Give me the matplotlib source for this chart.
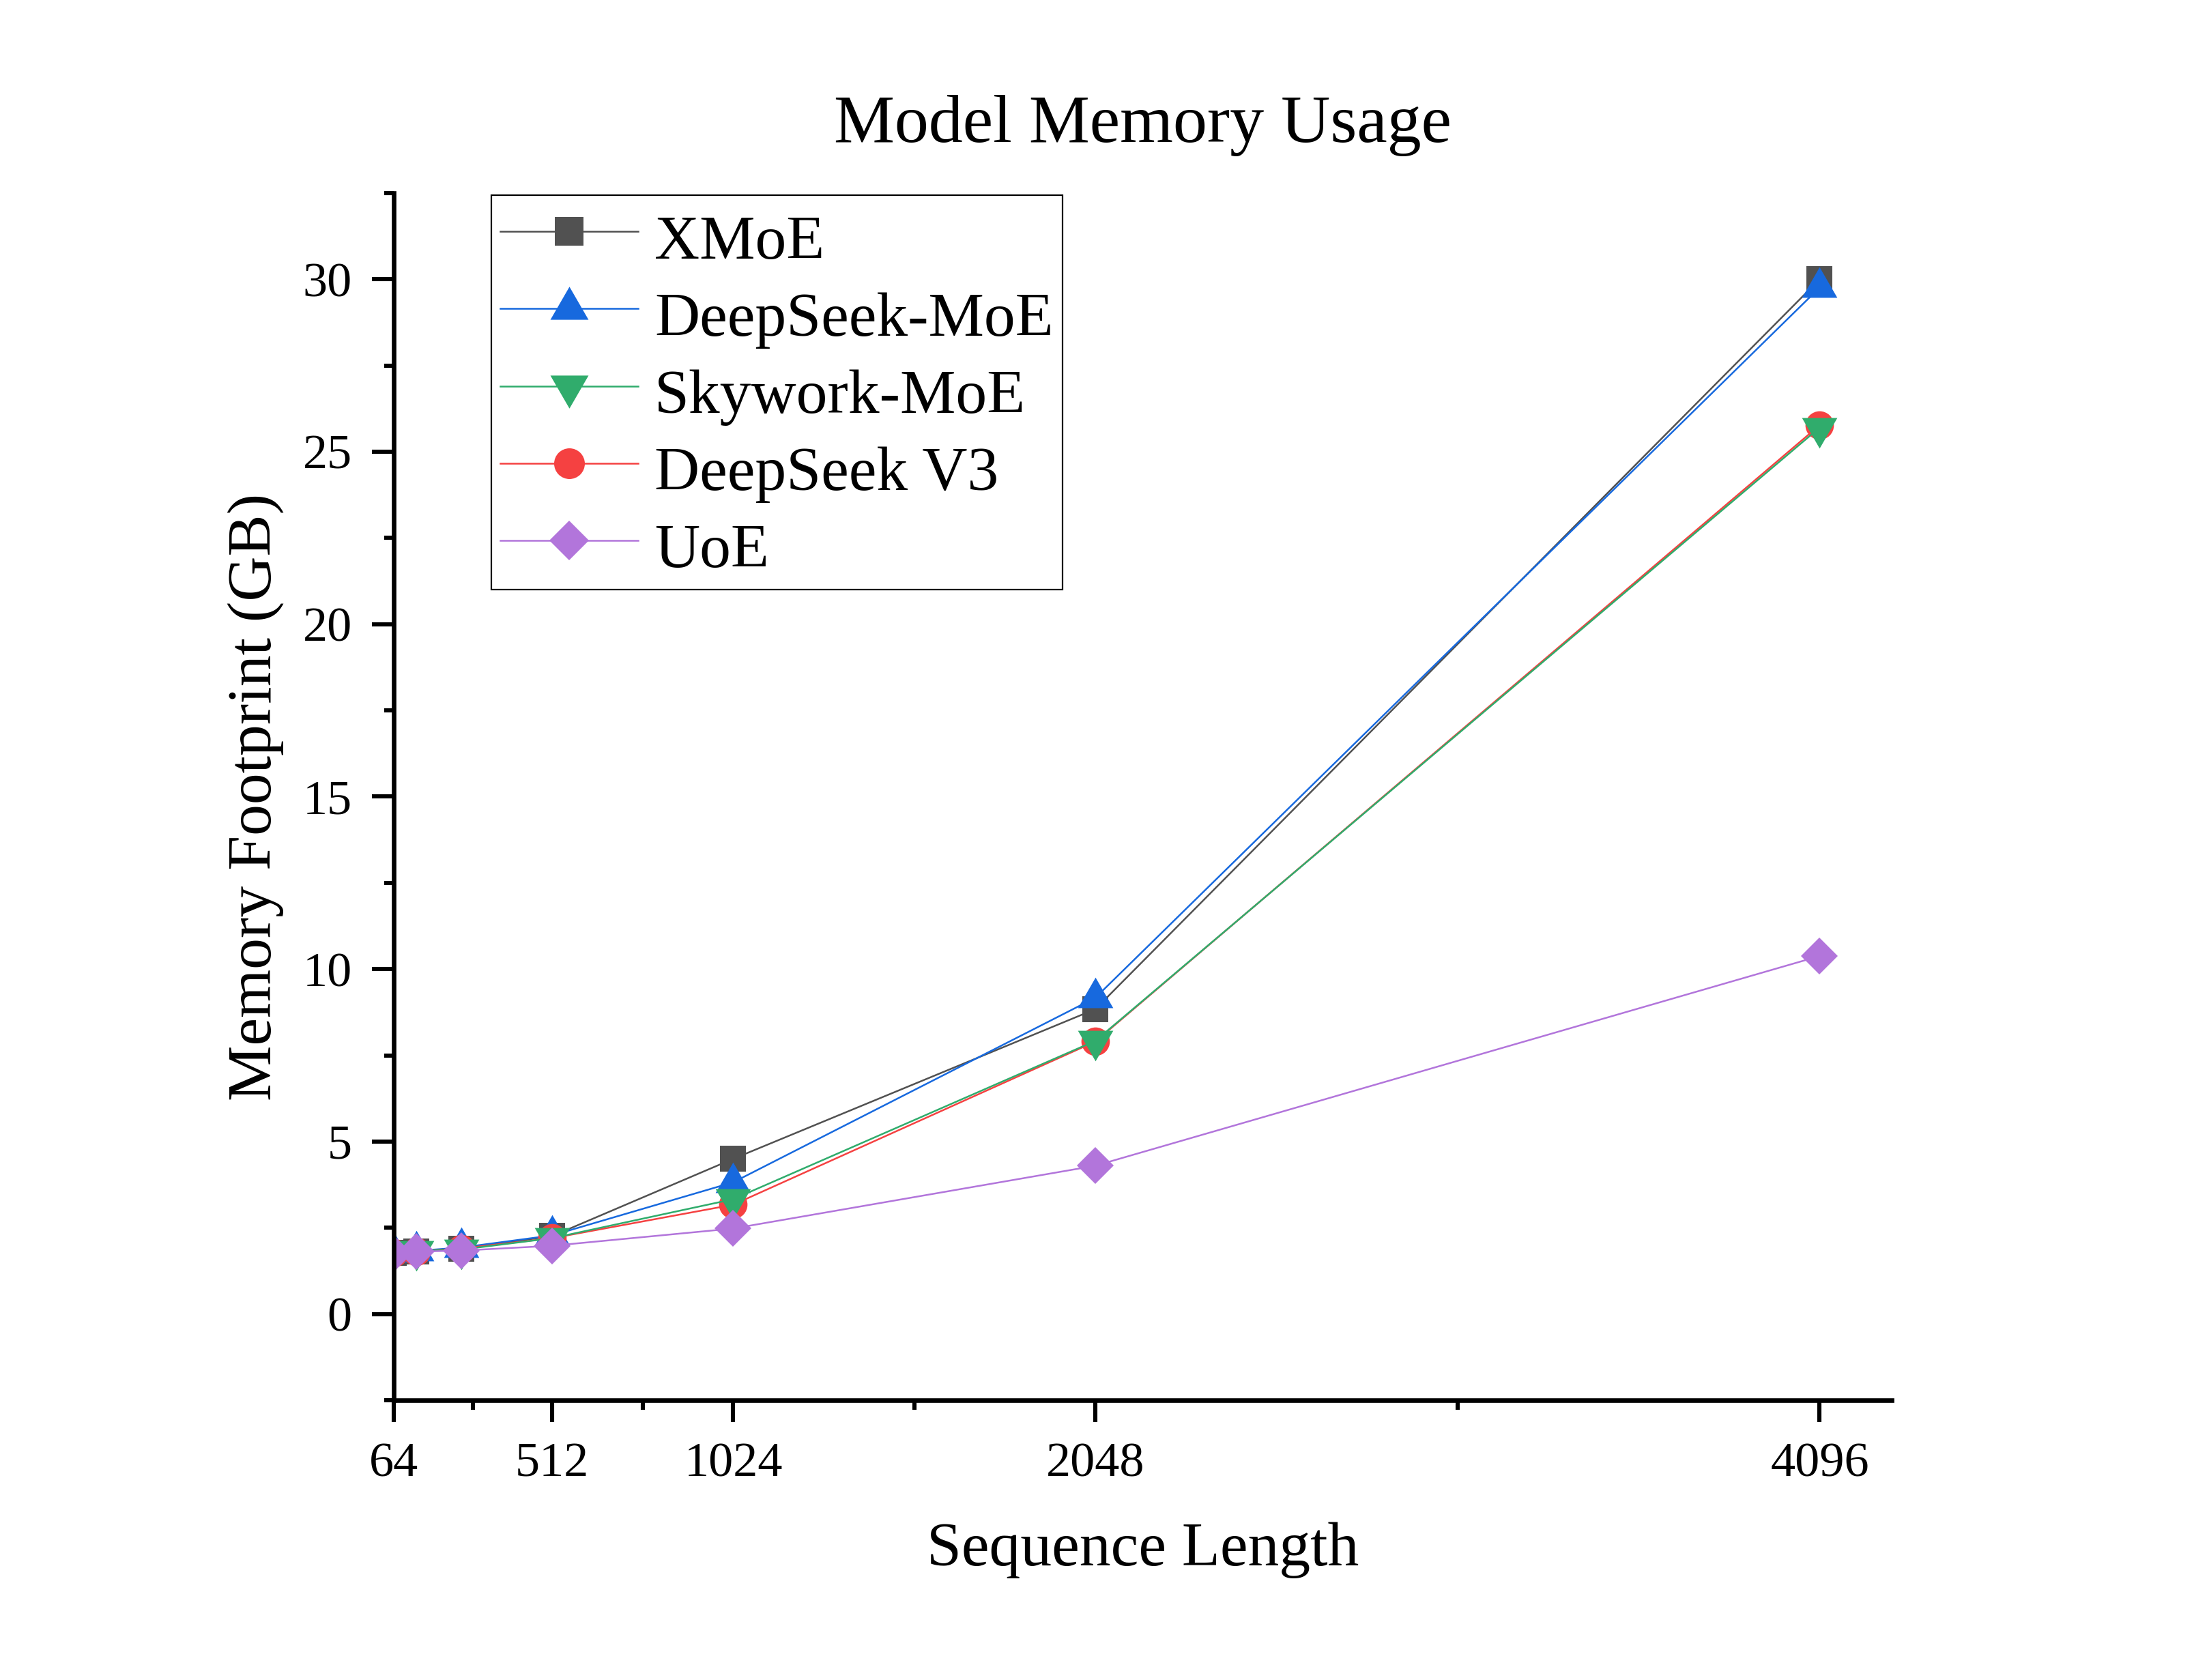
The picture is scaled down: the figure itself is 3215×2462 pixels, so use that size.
import matplotlib
matplotlib.use("Agg")
import matplotlib.pyplot as plt
from matplotlib.ticker import FixedLocator

plt.rcParams['font.family'] = ['Liberation Serif', 'DejaVu Serif']

seq_len = [64, 128, 256, 512, 1024, 2048, 4096]
xmoe = [1.78, 1.81, 1.89, 2.26, 4.50, 8.84, 30.0]
deepseek_moe = [1.79, 1.83, 1.93, 2.28, 3.82, 9.17, 29.76]
skywork_moe = [1.78, 1.83, 1.87, 2.20, 3.33, 7.92, 25.70]
deepseek_v3 = [1.78, 1.82, 1.90, 2.20, 3.17, 7.90, 25.77]
uoe = [1.76, 1.81, 1.84, 1.98, 2.48, 4.30, 10.38]

x_major = [64, 512, 1024, 2048, 4096]
x_minor = [288, 768, 1536, 3072]

# triangles centred on their centroid, like Origin draws them
tri_up = [(0, 1), (-0.866, -0.5), (0.866, -0.5), (0, 1)]
tri_down = [(0, -1), (-0.866, 0.5), (0.866, 0.5), (0, -1)]

fig = plt.figure(figsize=(16.08, 12.31), dpi=200)
ax = fig.add_axes([0.1794, 0.1665, 0.6826, 0.7186])

lw = 0.9
h1, = ax.plot(seq_len, xmoe, '-', color='#515151', lw=lw, marker='s', ms=13.7,
              mew=0, label='XMoE', zorder=2.0)
h2, = ax.plot(seq_len, deepseek_moe, '-', color='#1769DE', lw=lw, marker=tri_up, ms=21.5,
              mew=0, label='DeepSeek-MoE', zorder=2.1)
h4, = ax.plot(seq_len, deepseek_v3, '-', color='#F54141', lw=lw, marker='o', ms=15,
              mew=0, label='DeepSeek V3', zorder=2.2)
h3, = ax.plot(seq_len, skywork_moe, '-', color='#30AC6C', lw=lw, marker=tri_down, ms=21.5,
              mew=0, label='Skywork-MoE', zorder=2.3)
h5, = ax.plot(seq_len, uoe, '-', color='#B275DB', lw=lw, marker='D', ms=13.7,
              mew=0, label='UoE', zorder=2.4)

ax.set_xlim(64, 4300)
ax.set_ylim(-2.5, 32.5)
ax.xaxis.set_major_locator(FixedLocator(x_major))
ax.xaxis.set_minor_locator(FixedLocator(x_minor))
ax.set_xticklabels([str(v) for v in x_major])
ax.set_yticks([0, 5, 10, 15, 20, 25, 30])
ax.yaxis.set_minor_locator(FixedLocator([-2.5, 2.5, 7.5, 12.5, 17.5, 22.5, 27.5, 32.5]))

for side in ['top', 'right']:
    ax.spines[side].set_visible(False)
for side in ['left', 'bottom']:
    ax.spines[side].set_linewidth(2.4)

ax.tick_params(which='major', direction='out', length=11.5, width=2.2, labelsize=26, pad=10.5)
ax.tick_params(which='minor', direction='out', length=5, width=2.2)

ax.set_title('Model Memory Usage', fontsize=36, pad=27)
ax.set_xlabel('Sequence Length', fontsize=33, labelpad=19)
ax.set_ylabel('Memory Footprint (GB)', fontsize=33, labelpad=10)

leg = ax.legend(handles=[h1, h2, h3, h4, h5], loc='upper left', bbox_to_anchor=(0.065, 0.998),
                borderaxespad=0, fontsize=33, frameon=True, fancybox=False, framealpha=1,
                edgecolor='black', handlelength=2.2, handleheight=1.22, handletextpad=0.26,
                labelspacing=0.17, borderpad=0.15, markerscale=1.08)
leg.get_frame().set_linewidth(0.8)

fig.savefig('out.png', dpi=200, facecolor='white')
